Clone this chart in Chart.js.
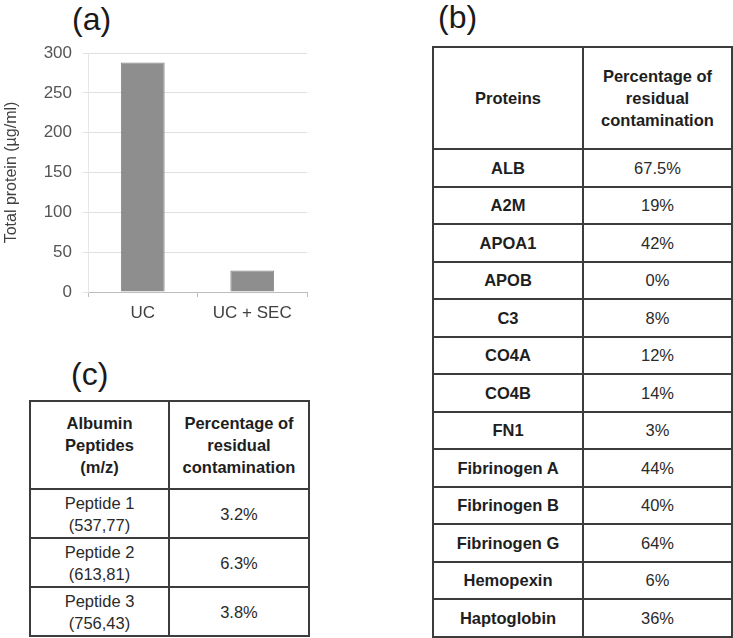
<!DOCTYPE html>
<html>
<head>
<meta charset="utf-8">
<script src="https://cdn.jsdelivr.net/npm/chart.js@4"></script>
<style>
  body { margin: 0; background: #fff; font-family: "Liberation Sans", Arial, sans-serif; color: #222; }
  .lbl { position: absolute; font-size: 32px; line-height: 32px; color: #1a1a1a; }
  #wrap-a { position: absolute; left: 0; top: 0; width: 330px; height: 330px; }
  table { position: absolute; border-collapse: collapse; table-layout: fixed; }
  td { border: 2px solid #3c3c3c; text-align: center; vertical-align: middle; padding: 0; font-size: 16.5px; line-height: 22px; color: #2a2a2a; }
  td.b { font-weight: bold; color: #1e1e1e; }
  #tab-b { left: 432px; top: 46px; width: 299px; }
  #tab-c { left: 29px; top: 400px; width: 279px; }
</style>
</head>
<body>
<div class="lbl" style="left:72px; top:3px;">(a)</div>
<div class="lbl" style="left:438px; top:1px;">(b)</div>
<div class="lbl" style="left:71px; top:358px;">(c)</div>

<div id="wrap-a"><canvas id="chart-a" width="330" height="330"></canvas></div>

<table id="tab-b"></table>
<table id="tab-c"></table>

<script>
// (a) total protein
const kategori = ['UC', 'UC + SEC'];
const totalProtein = [288, 27];
const yTicks = [0, 50, 100, 150, 200, 250, 300];

// (b) residual contamination per protein
const protein = ['ALB', 'A2M', 'APOA1', 'APOB', 'C3', 'CO4A', 'CO4B', 'FN1',
                 'Fibrinogen A', 'Fibrinogen B', 'Fibrinogen G', 'Hemopexin', 'Haptoglobin'];
const proteinPersen = ['67.5%', '19%', '42%', '0%', '8%', '12%', '14%', '3%', '44%', '40%', '64%', '6%', '36%'];

// (c) albumin peptides
const peptida = ['Peptide 1', 'Peptide 2', 'Peptide 3'];
const peptidaMz = ['(537,77)', '(613,81)', '(756,43)'];
const peptidaPersen = ['3.2%', '6.3%', '3.8%'];

const judulPersen = 'Percentage of<br>residual<br>contamination';

// Tabel (b)
let html = '<colgroup><col style="width:150px"><col style="width:149px"></colgroup>';
html += '<tr style="height:102px"><td class="b">Proteins</td><td class="b">' + judulPersen + '</td></tr>';
protein.forEach((p, i) => {
    html += '<tr style="height:37.5px"><td class="b">' + p + '</td><td>' + proteinPersen[i] + '</td></tr>';
});
document.getElementById('tab-b').innerHTML = html;

// Tabel (c)
html = '<colgroup><col style="width:139px"><col style="width:140px"></colgroup>';
html += '<tr style="height:88px"><td class="b">Albumin<br>Peptides<br>(m/z)</td><td class="b">' + judulPersen + '</td></tr>';
peptida.forEach((p, i) => {
    html += '<tr style="height:49px"><td>' + p + '<br>' + peptidaMz[i] + '</td><td>' + peptidaPersen[i] + '</td></tr>';
});
document.getElementById('tab-c').innerHTML = html;

// Grafik bar (a)
const ctx = document.getElementById('chart-a').getContext('2d');
new Chart(ctx, {
    type: 'bar',
    data: {
        labels: kategori,
        datasets: [{
            data: totalProtein,
            backgroundColor: '#8e8e8e',
            borderColor: '#858585',
            borderWidth: 1,
            barPercentage: 0.4,
            categoryPercentage: 1.0
        }]
    },
    options: {
        responsive: false,
        animation: false,
        layout: { padding: { top: 53, right: 23, left: 0, bottom: 0 } },
        plugins: { legend: { display: false }, tooltip: { enabled: false } },
        scales: {
            x: {
                grid: { drawOnChartArea: false, drawTicks: true, tickLength: 5, color: '#bdbdbd' },
                border: { color: '#bdbdbd' },
                ticks: { color: '#404040', font: { family: 'Liberation Sans', size: 17 }, padding: 6 },
                afterFit: s => { s.height = 38; }
            },
            y: {
                min: 0,
                max: 300,
                afterBuildTicks: s => { s.ticks = yTicks.map(v => ({ value: v })); },
                grid: { color: '#e0e0e0', tickLength: 5 },
                border: { color: '#e6e6e6' },
                ticks: { color: '#555', font: { family: 'Liberation Sans', size: 17 }, padding: 11 },
                title: {
                    display: true,
                    text: 'Total protein (µg/ml)',
                    color: '#404040',
                    font: { family: 'Liberation Sans', size: 16 },
                    padding: { top: 2, bottom: 2 }
                },
                afterFit: s => { s.width = 88; }
            }
        }
    }
});
</script>
</body>
</html>
